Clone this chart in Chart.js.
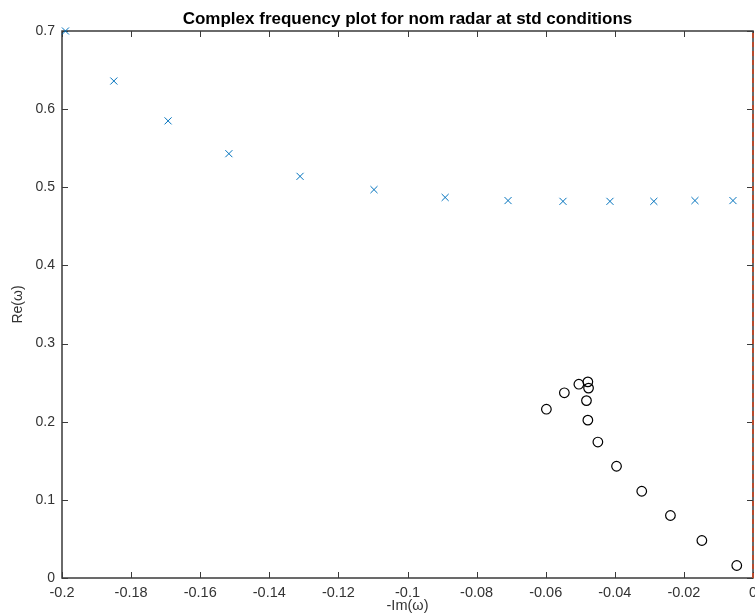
<!DOCTYPE html>
<html lang="en">
<head>
    <meta charset="UTF-8">
    <title>Complex frequency plot</title>
    <script src="https://cdn.jsdelivr.net/npm/chart.js@4.4.1/dist/chart.umd.min.js"></script>
    <style>
        html, body { margin: 0; padding: 0; background: #fff; overflow: hidden; }
        #wrap { width: 800px; height: 615px; }
    </style>
</head>
<body>

<div id="wrap"><canvas id="freqChart" width="800" height="615"></canvas></div>

<script>
    // -Im(w) / Re(w) pairs
    var crossX = [-0.199, -0.185, -0.1693, -0.1517, -0.1311, -0.1097, -0.0891, -0.0709, -0.055, -0.0414, -0.0287, -0.0168, -0.0058];
    var crossY = [0.700, 0.636, 0.585, 0.543, 0.514, 0.497, 0.487, 0.483, 0.482, 0.482, 0.482, 0.483, 0.483];

    var circleX = [-0.0598, -0.0546, -0.0504, -0.0478, -0.0476, -0.0482, -0.0478, -0.0449, -0.0395, -0.0322, -0.0239, -0.0148, -0.0047];
    var circleY = [0.216, 0.237, 0.248, 0.251, 0.243, 0.227, 0.202, 0.174, 0.143, 0.111, 0.080, 0.048, 0.016];

    // stability boundary at -Im(w) = 0
    var boundaryX = [0, 0];
    var boundaryY = [0, 0.7];

    var xTicks = { min: -0.2, max: 0, step: 0.02 };
    var yTicks = { min: 0, max: 0.7, step: 0.1 };

    function pairs(xs, ys) {
        return xs.map(function (x, i) { return { x: x, y: ys[i] }; });
    }
    function fmt(v) {
        var s = String(+v.toFixed(2));
        return s === "-0" ? "0" : s;
    }

    var FONT = "'Liberation Sans', Arial, Helvetica, sans-serif";
    var AXIS_COLOR = "#3a3a3a";

    // matlab-like box with inward ticks
    var boxPlugin = {
        id: "boxAxes",
        beforeDatasetsDraw: function (chart) {
            var ctx = chart.ctx, a = chart.chartArea;
            var xs = chart.scales.x, ys = chart.scales.y;
            var tl = 6;
            ctx.save();
            ctx.strokeStyle = AXIS_COLOR;
            ctx.lineWidth = 1.5;
            ctx.strokeRect(a.left, a.top, a.right - a.left, a.bottom - a.top);
            ctx.lineWidth = 1;
            ctx.beginPath();
            xs.ticks.forEach(function (t) {
                var px = Math.round(xs.getPixelForValue(t.value)) + 0.5;
                ctx.moveTo(px, a.bottom); ctx.lineTo(px, a.bottom - tl);
                ctx.moveTo(px, a.top); ctx.lineTo(px, a.top + tl);
            });
            ys.ticks.forEach(function (t) {
                var py = Math.round(ys.getPixelForValue(t.value)) + 0.5;
                ctx.moveTo(a.left, py); ctx.lineTo(a.left + tl, py);
                ctx.moveTo(a.right, py); ctx.lineTo(a.right - tl, py);
            });
            ctx.stroke();
            ctx.restore();
        }
    };

    var freqChart = new Chart("freqChart", {
        type: "scatter",
        data: {
            datasets: [{
                label: "modes",
                data: pairs(crossX, crossY),
                pointStyle: "crossRot",
                pointRadius: 5,
                pointBorderWidth: 1,
                borderColor: "#0072BD",
                backgroundColor: "#0072BD",
                clip: false
            }, {
                label: "branch",
                data: pairs(circleX, circleY),
                pointStyle: "circle",
                pointRadius: 4.8,
                pointBorderWidth: 1.2,
                borderColor: "#000",
                backgroundColor: "rgba(0,0,0,0)",
                clip: false
            }, {
                label: "boundary",
                type: "line",
                data: pairs(boundaryX, boundaryY),
                borderColor: "#B84A2C",
                borderWidth: 2,
                borderDash: [5, 4],
                pointRadius: 0,
                fill: false,
                clip: false
            }]
        },
        options: {
            responsive: false,
            animation: false,
            layout: { padding: { left: 0, right: 47, top: 0, bottom: 0 } },
            plugins: {
                legend: { display: false },
                tooltip: { enabled: false },
                title: {
                    display: true,
                    fullSize: false,
                    text: "Complex frequency plot for nom radar at std conditions",
                    color: "#000",
                    font: { family: FONT, size: 17, weight: "bold" },
                    padding: { top: 8.8, bottom: 1.8 }
                }
            },
            scales: {
                x: {
                    type: "linear",
                    min: xTicks.min,
                    max: xTicks.max,
                    grid: { display: false, drawTicks: false },
                    border: { display: false },
                    ticks: {
                        stepSize: xTicks.step,
                        padding: 6,
                        color: "#333",
                        font: { family: FONT, size: 14.5 },
                        maxRotation: 0,
                        autoSkip: false,
                        callback: function (v) { return fmt(v); }
                    },
                    title: {
                        display: true,
                        text: "-Im(\u03c9)",
                        color: "#333",
                        font: { family: FONT, size: 14.5 },
                        padding: { top: 0, bottom: 0 }
                    },
                    afterFit: function (scale) { scale.height = 37; }
                },
                y: {
                    type: "linear",
                    min: yTicks.min,
                    max: yTicks.max,
                    grid: { display: false, drawTicks: false },
                    border: { display: false },
                    ticks: {
                        stepSize: yTicks.step,
                        padding: 7,
                        color: "#333",
                        font: { family: FONT, size: 14 },
                        callback: function (v) { return fmt(v); }
                    },
                    title: {
                        display: true,
                        text: "Re(\u03c9)",
                        color: "#333",
                        font: { family: FONT, size: 14 },
                        padding: { top: 10, bottom: 0 }
                    },
                    afterFit: function (scale) { scale.width = 62; }
                }
            }
        },
        plugins: [boxPlugin]
    });
</script>

</body>
</html>
